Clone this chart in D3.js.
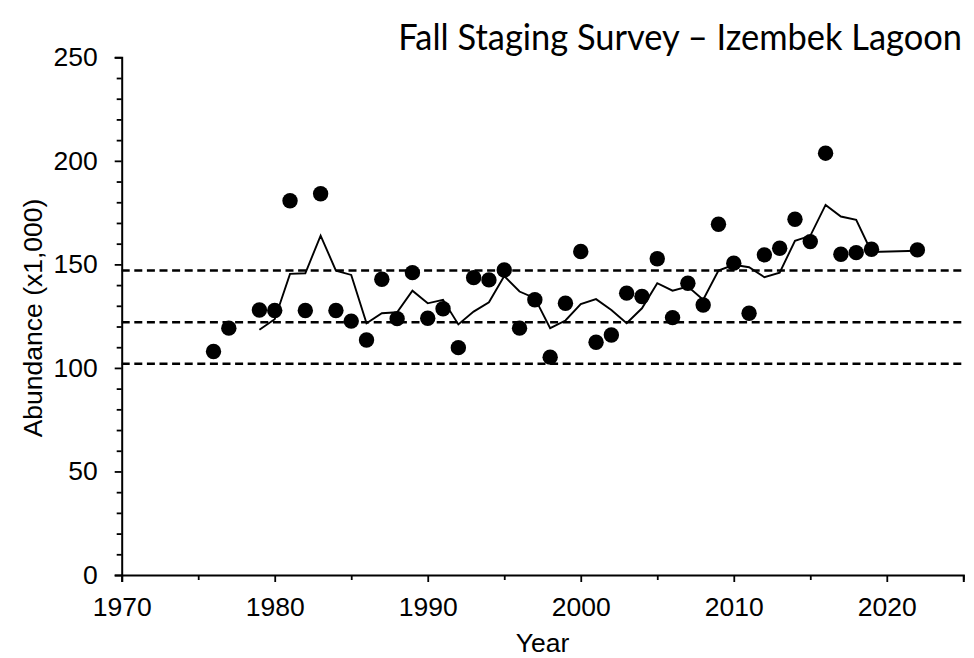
<!DOCTYPE html>
<html>
<head>
<meta charset="utf-8">
<script src="https://cdn.jsdelivr.net/npm/d3@7"></script>
<style>
  html, body { margin: 0; padding: 0; background: #fff; }
  svg { display: block; }
</style>
</head>
<body>
<svg id="chart" width="974" height="658"></svg>
<script>
// ---- data ----
const surveyYears = [1976,1977,1979,1980,1981,1982,1983,1984,1985,1986,1987,1988,1989,1990,1991,1992,1993,1994,1995,1996,1997,1998,1999,2000,2001,2002,2003,2004,2005,2006,2007,2008,2009,2010,2011,2012,2013,2014,2015,2016,2017,2018,2019,2022];
const surveyValues = [107.9,119.2,128.0,127.7,180.7,127.7,184.1,127.7,122.6,113.5,142.8,123.8,146.0,124.0,128.6,109.8,143.6,142.5,147.3,119.2,132.9,105.2,131.2,156.2,112.4,115.9,136.1,134.5,152.7,124.3,140.9,130.4,169.4,150.6,126.4,154.6,157.8,171.8,161.0,203.7,154.9,155.7,157.3,157.0];
const avgYears = [1979,1980,1981,1982,1983,1984,1985,1986,1987,1988,1989,1990,1991,1992,1993,1994,1995,1996,1997,1998,1999,2000,2001,2002,2003,2004,2005,2006,2007,2008,2009,2010,2011,2012,2013,2014,2015,2016,2017,2018,2019,2022];
const avgValues = [118.4,123.5,145.4,145.7,163.9,147.0,144.9,121.6,126.4,126.9,137.3,131.2,132.9,121.0,127.2,131.7,144.4,136.9,133.7,119.2,122.9,130.8,133.2,128.0,121.6,128.8,140.9,137.3,139.3,132.9,147.0,149.8,148.6,143.8,146.0,161.4,163.8,178.7,173.1,171.5,156.0,156.6];
const thresholds = [147, 122, 102];
const xTicks = [1970,1980,1990,2000,2010,2020];
const xMinorTicks = [1975,1985,1995,2005,2015,2025];
const yTicks = [0,50,100,150,200,250];
const yMinorTicks = d3.range(0, 251, 10);
const titleText = "Fall Staging Survey \u2013 Izembek Lagoon";
const xLabel = "Year";
const yLabel = "Abundance (x1,000)";

// ---- layout ----
const svg = d3.select("#chart");
const plotLeft = 121.7, plotRight = 963.3, plotTop = 57.3, plotBottom = 575;
const x = d3.scaleLinear().domain([1970, 2025]).range([plotLeft, plotRight]);
const y = d3.scaleLinear().domain([0, 250]).range([plotBottom, plotTop]);
const fontAxis = "'Liberation Sans', Arial, sans-serif";
const axisFontSize = 26.5;

// threshold dashed lines
svg.append("g").selectAll("line").data(thresholds).join("line")
  .attr("x1", x(1970)).attr("x2", x(2025))
  .attr("y1", d => y(d)).attr("y2", d => y(d))
  .attr("stroke", "#000").attr("stroke-width", 2.5)
  .attr("stroke-dasharray", "8,4.6");

// moving average line
const line = d3.line().x(d => x(d[0])).y(d => y(d[1]));
svg.append("path")
  .datum(avgYears.map((yr, i) => [yr, avgValues[i]]))
  .attr("d", line)
  .attr("fill", "none").attr("stroke", "#000").attr("stroke-width", 1.9)
  .attr("stroke-linejoin", "miter");

// points
svg.append("g").selectAll("circle").data(surveyYears.map((yr, i) => [yr, surveyValues[i]])).join("circle")
  .attr("cx", d => x(d[0])).attr("cy", d => y(d[1]))
  .attr("r", 7.7).attr("fill", "#000");

// x axis
const xAxis = svg.append("g").attr("transform", `translate(0,${plotBottom})`)
  .call(d3.axisBottom(x).tickValues(xTicks).tickFormat(d3.format("d")).tickSize(7).tickPadding(15));
svg.append("g").attr("transform", `translate(0,${plotBottom})`)
  .call(d3.axisBottom(x).tickValues(xMinorTicks).tickFormat("").tickSize(5))
  .call(g => g.select(".domain").remove());

// y axis
const yAxis = svg.append("g").attr("transform", `translate(${plotLeft},0)`)
  .call(d3.axisLeft(y).tickValues(yTicks).tickSize(7).tickPadding(17));
svg.append("g").attr("transform", `translate(${plotLeft},0)`)
  .call(d3.axisLeft(y).tickValues(yMinorTicks.filter(v => v % 50 !== 0)).tickFormat("").tickSize(5))
  .call(g => g.select(".domain").remove());

svg.selectAll(".domain").attr("stroke", "#000").attr("stroke-width", 2);
svg.selectAll(".tick line").attr("stroke", "#000").attr("stroke-width", 1.8);
svg.selectAll(".tick text").attr("font-family", fontAxis).attr("font-size", axisFontSize).attr("fill", "#000");
xAxis.selectAll(".tick text").attr("dy", "0.71em");

// axis titles
svg.append("text").attr("x", (plotLeft + plotRight) / 2).attr("y", 652)
  .attr("text-anchor", "middle").attr("font-family", fontAxis).attr("font-size", axisFontSize)
  .text(xLabel);
svg.append("text").attr("transform", `translate(42,318) rotate(-90)`)
  .attr("text-anchor", "middle").attr("font-family", fontAxis).attr("font-size", axisFontSize)
  .text(yLabel);

// title: larger font, condensed horizontally to the reference span
const titleG = svg.append("g");
const t = titleG.append("text").attr("x", 0).attr("y", 0)
  .attr("text-anchor", "end")
  .attr("font-family", "Lato, 'Open Sans', sans-serif").attr("font-size", 36.5)
  .attr("fill", "#000").text(titleText);
const w = t.node().getComputedTextLength();
titleG.attr("transform", `translate(962,50) scale(${564 / w},1)`);
</script>
</body>
</html>
